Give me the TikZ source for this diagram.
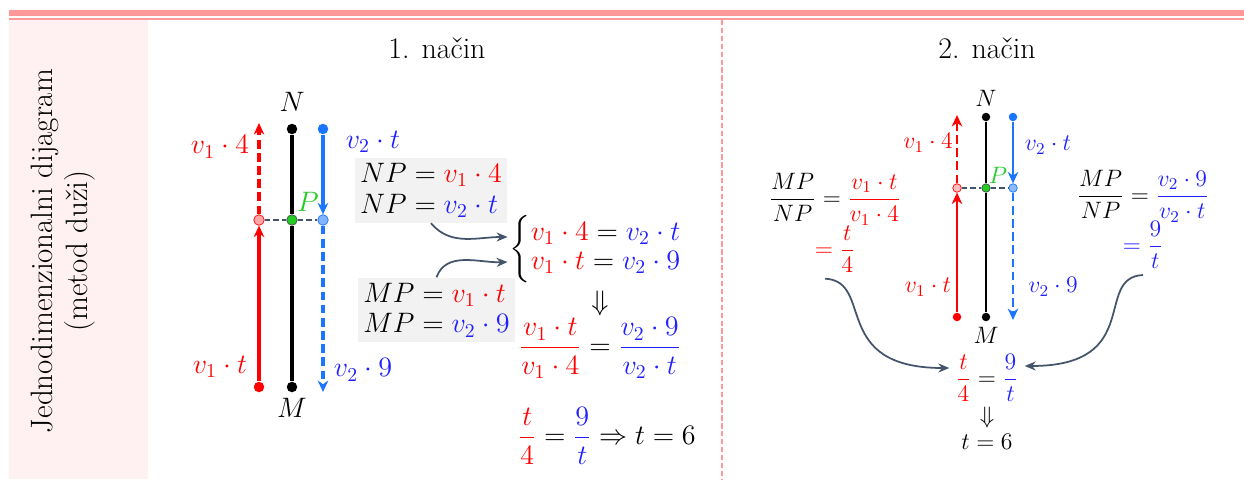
\RequirePackage{fix-cm}
\documentclass[tikz,border=0pt]{standalone}
\usepackage{amsmath,amssymb}
\usepackage{tikz}
\usetikzlibrary{arrows.meta,positioning,calc}
\usepackage{xcolor}
\definecolor{bandred}{HTML}{FF9999}
\definecolor{colpink}{HTML}{FFF0F1}
\definecolor{vred}{HTML}{FF0000}
\definecolor{vblue}{HTML}{1F1FFF}
\definecolor{lblue}{HTML}{1A75FF}
\definecolor{slate}{HTML}{44546A}
\definecolor{boxgray}{HTML}{F2F2F2}
\definecolor{pgreen}{HTML}{22CC22}

\begin{document}
\begin{tikzpicture}[>=Stealth,
    big/.style={font=\fontsize{16}{17.5}\selectfont},
    small/.style={font=\fontsize{13.5}{16}\selectfont},
    dotnode/.style={circle, inner sep=0pt, minimum size=2.1mm},
    smalldot/.style={circle, inner sep=0pt, minimum size=1.7mm},
    link/.style={slate, line width=1pt, -{Stealth[length=2.2mm, width=1.8mm]}},
    tip/.style={-{Stealth[length=2.3mm, width=2.1mm]}},
    dsh/.style={dash pattern=on 5pt off 2.5pt}]
    \useasboundingbox (0,0) rectangle (24.88,-9.58);

    % frame
    \fill[bandred] (0.18,-0.20) rectangle (24.88,-0.32);
    \fill[bandred] (0.18,-0.36) rectangle (24.88,-0.40);
    \fill[colpink] (0.18,-0.40) rectangle (2.96,-9.58);
    \draw[bandred, line width=0.8pt, dash pattern=on 3pt off 1.5pt] (14.44,-0.40) -- (14.44,-9.58);
    \node[rotate=90, align=center, font=\fontsize{17.6}{20}\selectfont] (side) at (1.26,-5.02)
        {Jednodimenzionalni dijagram\\(metod duži)};
    \node[font=\fontsize{17}{20}\selectfont] (t1) at (8.74,-0.96) {1. način};
    \node[font=\fontsize{17}{20}\selectfont] (t2) at (19.74,-0.96) {2. način};

    % 1. nacin
    \node[dotnode, fill=black] (N1) at (5.84,-2.58) {};
    \node[dotnode, fill=black] (M1) at (5.84,-7.74) {};
    \node[dotnode, fill=vred] (R1) at (5.18,-7.74) {};
    \node[dotnode, fill=lblue] (B1) at (6.46,-2.58) {};
    \coordinate (R1top) at (5.18,-2.46);
    \coordinate (B1bot) at (6.46,-7.84);
    \node[dotnode, draw=vred, fill=vred!35] (Pr1) at (5.18,-4.40) {};
    \node[dotnode, draw=black!70, fill=pgreen] (P1) at (5.84,-4.40) {};
    \node[dotnode, draw=lblue, fill=lblue!55] (Pb1) at (6.46,-4.40) {};

    \draw[line width=1.8pt] (N1) -- (P1) -- (M1);
    \draw[vred, line width=1.8pt, tip] (R1) -- (Pr1);
    \draw[vred, line width=1.8pt, dsh, tip] (Pr1) -- (R1top);
    \draw[lblue, line width=1.8pt, tip] (B1) -- (Pb1);
    \draw[lblue, line width=1.8pt, dsh, tip] (Pb1) -- (B1bot);
    \draw[slate, line width=0.8pt, dash pattern=on 3pt off 2pt] (Pr1) -- (P1) -- (Pb1);

    \node[big] (N1l) at (5.84,-2.04) {$N$};
    \node[big] (M1l) at (5.84,-8.16) {$M$};
    \node[big, pgreen] (P1l) at (6.16,-4.04) {$P$};
    \node[big, vred] (a1) at (4.40,-2.94) {$v_1\cdot 4$};
    \node[big, vred] (b1) at (4.40,-7.34) {$v_1\cdot t$};
    \node[big, vblue] (c1) at (7.46,-2.84) {$v_2\cdot t$};
    \node[big, vblue] (d1) at (7.26,-7.40) {$v_2\cdot 9$};

    \node[big, fill=boxgray, align=left, inner sep=3pt] (np) at (8.62,-3.81)
        {$NP = {\color{vred}v_1\cdot 4}$\\$NP = {\color{vblue}v_2\cdot t}$};
    \node[big, fill=boxgray, align=left, inner sep=3pt] (mp) at (8.73,-6.20)
        {$MP = {\color{vred}v_1\cdot t}$\\$MP = {\color{vblue}v_2\cdot 9}$};
    \node[big, inner sep=1pt] (sys) at (11.92,-4.98)
        {$\left\{\begin{aligned}&{\color{vred}v_1\cdot 4} = {\color{vblue}v_2\cdot t}\\[-4pt]
        &{\color{vred}v_1\cdot t} = {\color{vblue}v_2\cdot 9}\end{aligned}\right.$};
    \draw[link] (np.south) to[out=-50, in=180] ($(sys.west)+(0,0.24)$);
    \draw[link] (mp.north) to[out=70, in=182] ($(sys.west)+(0,-0.26)$);
    \node[big] (imp1) at (12.0,-6.06) {$\Downarrow$};
    \node[big] (frac1) at (12.0,-6.96)
        {$\displaystyle{\color{vred}\frac{v_1\cdot t}{v_1\cdot 4}} = {\color{vblue}\frac{v_2\cdot 9}{v_2\cdot t}}$};
    \node[big] (res1) at (12.14,-8.72)
        {$\displaystyle{\color{vred}\frac{t}{4}} = {\color{vblue}\frac{9}{t}} \Rightarrow t = 6$};

    % 2. nacin
    \node[smalldot, fill=black] (N2) at (19.72,-2.34) {};
    \node[smalldot, fill=black] (M2) at (19.72,-6.34) {};
    \node[smalldot, fill=vred] (R2) at (19.14,-6.34) {};
    \node[smalldot, fill=lblue] (B2) at (20.26,-2.34) {};
    \coordinate (R2top) at (19.14,-2.30);
    \coordinate (B2bot) at (20.26,-6.40);
    \node[smalldot, draw=vred, fill=vred!25] (Pr2) at (19.14,-3.76) {};
    \node[smalldot, draw=black!70, fill=pgreen] (P2) at (19.72,-3.76) {};
    \node[smalldot, draw=lblue, fill=lblue!50] (Pb2) at (20.26,-3.76) {};

    \draw[line width=1.4pt] (N2) -- (P2) -- (M2);
    \draw[vred, line width=1.4pt, tip] (R2) -- (Pr2);
    \draw[vred, line width=1.4pt, dsh, tip] (Pr2) -- (R2top);
    \draw[lblue, line width=1.4pt, tip] (B2) -- (Pb2);
    \draw[lblue, line width=1.4pt, dsh, tip] (Pb2) -- (B2bot);
    \draw[slate, line width=0.7pt, dash pattern=on 3pt off 2pt] (Pr2) -- (P2) -- (Pb2);

    \node[small] (N2l) at (19.72,-1.96) {$N$};
    \node[small] (M2l) at (19.72,-6.70) {$M$};
    \node[small, pgreen] (P2l) at (19.96,-3.50) {$P$};
    \node[small, vred] (a2) at (18.56,-2.86) {$v_1\cdot 4$};
    \node[small, vred] (b2) at (18.56,-5.74) {$v_1\cdot t$};
    \node[small, vblue] (c2) at (20.96,-2.90) {$v_2\cdot t$};
    \node[small, vblue] (d2) at (21.06,-5.74) {$v_2\cdot 9$};

    \node[small] (lf) at (16.70,-3.98)
        {$\displaystyle\frac{MP}{NP} = {\color{vred}\frac{v_1\cdot t}{v_1\cdot 4}}$};
    \node[small, vred] (lq) at (16.70,-4.98) {$\displaystyle=\frac{t}{4}$};
    \node[small] (rf) at (22.86,-3.92)
        {$\displaystyle\frac{MP}{NP} = {\color{vblue}\frac{v_2\cdot 9}{v_2\cdot t}}$};
    \node[small, vblue] (rq) at (22.86,-4.90) {$\displaystyle=\frac{9}{t}$};
    \node[small] (res2) at (19.74,-7.56)
        {$\displaystyle{\color{vred}\frac{t}{4}} = {\color{vblue}\frac{9}{t}}$};
    \node[small] (imp2) at (19.74,-8.36) {$\Downarrow$};
    \node[small] (fin2) at (19.74,-8.84) {$t = 6$};
    \draw[link] ($(lq.south)+(-0.2,0)$) .. controls +(1.0,-0.05) and +(-2.4,0) .. ($(res2.west)+(0,0.2)$);
    \draw[link] ($(rq.south)+(0,0)$) .. controls +(-1.0,-0.05) and +(2.4,0) .. ($(res2.east)+(0,0.24)$);
\end{tikzpicture}
\end{document}
